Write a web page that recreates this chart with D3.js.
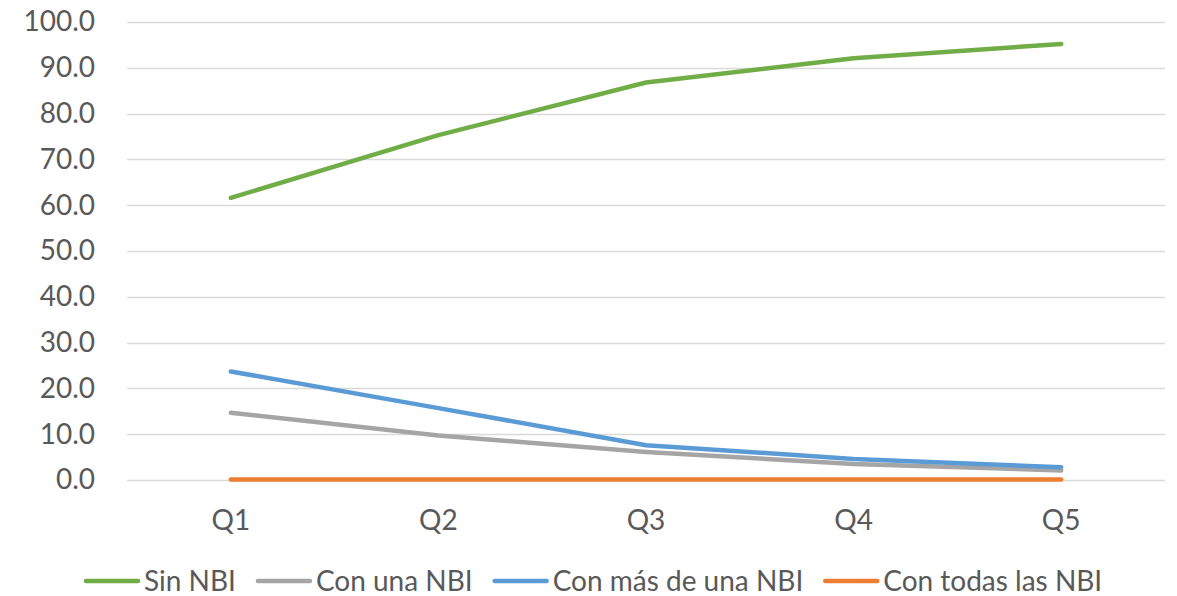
<!DOCTYPE html>
<html>
<head>
<meta charset="utf-8">
<script src="https://cdn.jsdelivr.net/npm/d3@7"></script>
<style>
  body { margin: 0; background: #fff; }
  text { font-family: Lato, "Open Sans", sans-serif; fill: #595959; }
</style>
</head>
<body>
<svg id="chart" width="1177" height="596"></svg>
<script>
// data
var categories = ["Q1", "Q2", "Q3", "Q4", "Q5"];
var sinNBI = [61.6, 75.3, 86.8, 92.1, 95.2];
var conUna = [14.7, 9.7, 6.1, 3.5, 2.1];
var conMas = [23.7, 15.7, 7.6, 4.6, 2.8];
var conTodas = [0.1, 0.1, 0.1, 0.1, 0.1];
var yTicks = [0, 10, 20, 30, 40, 50, 60, 70, 80, 90, 100];

var series = [
  { name: "Sin NBI", values: sinNBI, color: "#70ad47" },
  { name: "Con una NBI", values: conUna, color: "#a5a5a5" },
  { name: "Con más de una NBI", values: conMas, color: "#5b9bd5" },
  { name: "Con todas las NBI", values: conTodas, color: "#ed7d31" }
];

var svg = d3.select("#chart");
var margin = { left: 127, right: 12, top: 22, bottom: 116 };
var width = 1177 - margin.left - margin.right;
var height = 596 - margin.top - margin.bottom;
var fontSize = "28px";

var g = svg.append("g").attr("transform", "translate(" + margin.left + "," + margin.top + ")");

var x = d3.scaleBand().domain(categories).range([0, width]);
var y = d3.scaleLinear().domain([0, 100]).range([height, 0]);

// gridlines
g.selectAll("line.grid")
  .data(yTicks)
  .enter().append("line")
  .attr("class", "grid")
  .attr("x1", 0).attr("x2", width)
  .attr("y1", function (d) { return Math.round(y(d)) + 0.5; })
  .attr("y2", function (d) { return Math.round(y(d)) + 0.5; })
  .style("stroke", "#d9d9d9")
  .style("stroke-width", 1.5);

// y axis labels
var yAxis = d3.axisLeft(y).tickValues(yTicks).tickSize(0).tickPadding(32)
  .tickFormat(d3.format(".1f"));
var ya = g.append("g").call(yAxis);
ya.select(".domain").remove();
ya.selectAll("text").style("font-size", fontSize).style("fill", "#595959")
  .style("font-family", "Lato, 'Open Sans', sans-serif");

// x axis labels
var xAxis = d3.axisBottom(x).tickSize(0).tickPadding(30);
var xa = g.append("g").attr("transform", "translate(0," + height + ")").call(xAxis);
xa.select(".domain").remove();
xa.selectAll("text").style("font-size", fontSize).style("fill", "#595959")
  .style("font-family", "Lato, 'Open Sans', sans-serif");

var line = d3.line()
  .x(function (d, i) { return x(categories[i]) + x.bandwidth() / 2; })
  .y(function (d) { return y(d); });

// draw in Excel order so the last series ends on top
series.forEach(function (s) {
  g.append("path")
    .datum(s.values)
    .attr("d", line)
    .style("fill", "none")
    .style("stroke", s.color)
    .style("stroke-width", 4.5)
    .style("stroke-linecap", "round")
    .style("stroke-linejoin", "round");
});

// legend
var legend = svg.append("g").attr("transform", "translate(86,581)");
var cursor = 0;
series.forEach(function (s) {
  var item = legend.append("g").attr("transform", "translate(" + cursor + ",0)");
  item.append("line")
    .attr("x1", 0).attr("x2", 52).attr("y1", 0).attr("y2", 0)
    .style("stroke", s.color).style("stroke-width", 4.5).style("stroke-linecap", "round");
  var t = item.append("text")
    .attr("x", 58).attr("y", 0).attr("dy", "0.35em")
    .style("font-size", fontSize)
    .text(s.name);
  cursor += 58 + t.node().getComputedTextLength() + 22;
});
</script>
</body>
</html>
